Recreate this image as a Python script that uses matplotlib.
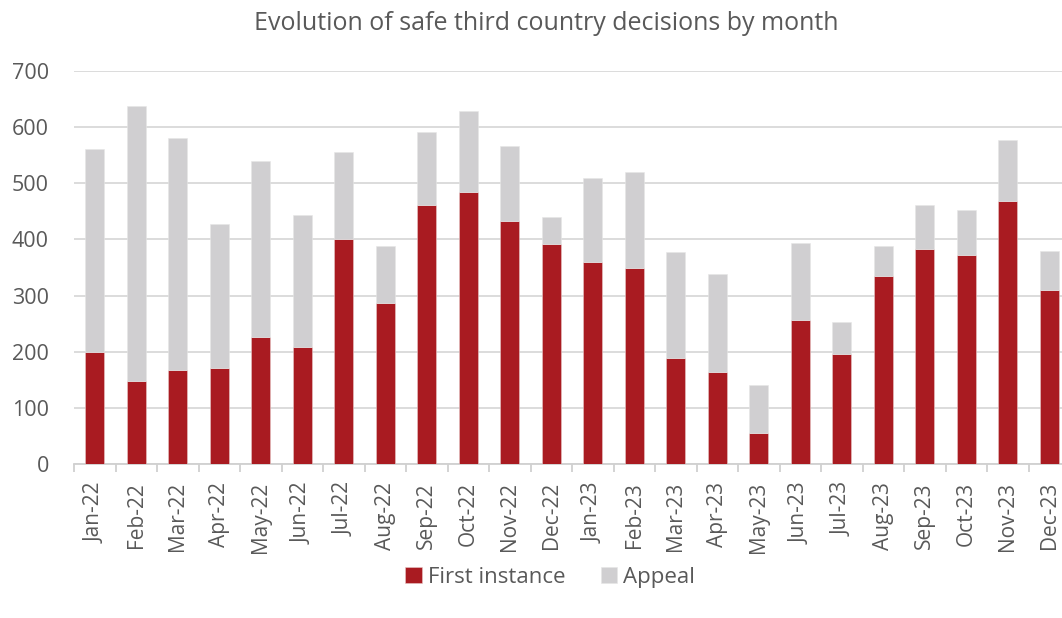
import matplotlib
matplotlib.use("Agg")
import matplotlib.pyplot as plt
import numpy as np

months = ["Jan-22", "Feb-22", "Mar-22", "Apr-22", "May-22", "Jun-22", "Jul-22", "Aug-22",
          "Sep-22", "Oct-22", "Nov-22", "Dec-22", "Jan-23", "Feb-23", "Mar-23", "Apr-23",
          "May-23", "Jun-23", "Jul-23", "Aug-23", "Sep-23", "Oct-23", "Nov-23", "Dec-23"]
first_instance = [200, 147, 167, 171, 227, 209, 401, 287, 461, 485, 433, 391,
                  360, 349, 189, 163, 55, 257, 196, 335, 383, 372, 468, 310]
totals = [561, 638, 581, 427, 539, 444, 556, 388, 591, 629, 566, 440,
          510, 520, 378, 338, 140, 394, 253, 389, 461, 452, 577, 379]
appeal = [t - f for t, f in zip(totals, first_instance)]

RED = "#A91B21"
GREY = "#D0CFD1"
TXT = "#595959"

plt.rcParams['font.family'] = ['Open Sans', 'DejaVu Sans']

fig = plt.figure(figsize=(10.62, 6.18), dpi=100)
ax = fig.add_axes([74/1062, (618-464)/618, 996/1062, (464-71)/618])

x = np.arange(len(months))
ax.bar(x, first_instance, width=0.45, color=RED, edgecolor="#e8c8c8", linewidth=0.4,
       label="First instance", zorder=3)
ax.bar(x, appeal, width=0.45, bottom=first_instance, color=GREY, edgecolor="#e6e6e6",
       linewidth=0.4, label="Appeal", zorder=3)

ax.set_xlim(-0.5, len(months) - 0.5)
ax.set_ylim(0, 700)
ax.set_yticks(range(0, 701, 100))
ax.yaxis.grid(True, color="#d9d9d9", linewidth=1.3, zorder=0)
ax.set_axisbelow(True)

for s in ["top", "right", "left"]:
    ax.spines[s].set_visible(False)
ax.spines["bottom"].set_color("#d0d0d0")
ax.spines["bottom"].set_linewidth(1.3)

ax.set_xticks(x)
ax.set_xticklabels(months, rotation=90, fontsize=15, color=TXT)
ax.tick_params(axis="x", which="major", length=0, pad=13)
ax.set_xticks(np.arange(-0.5, len(months), 1), minor=True)
ax.tick_params(axis="x", which="minor", length=6, width=1.3, color="#d0d0d0")
ax.tick_params(axis="y", length=0, labelsize=15.5, labelcolor=TXT, pad=18)

fig.text(0.514, 0.962, "Evolution of safe third country decisions by month",
         ha="center", va="center", fontsize=18, color=TXT)

fig.legend(loc="center", bbox_to_anchor=(0.518, 0.066), ncol=2, frameon=False,
           fontsize=16, labelcolor=TXT, handlelength=0.75, handleheight=0.75,
           handletextpad=0.25, columnspacing=1.6)

fig.savefig("out.png", dpi=100)
